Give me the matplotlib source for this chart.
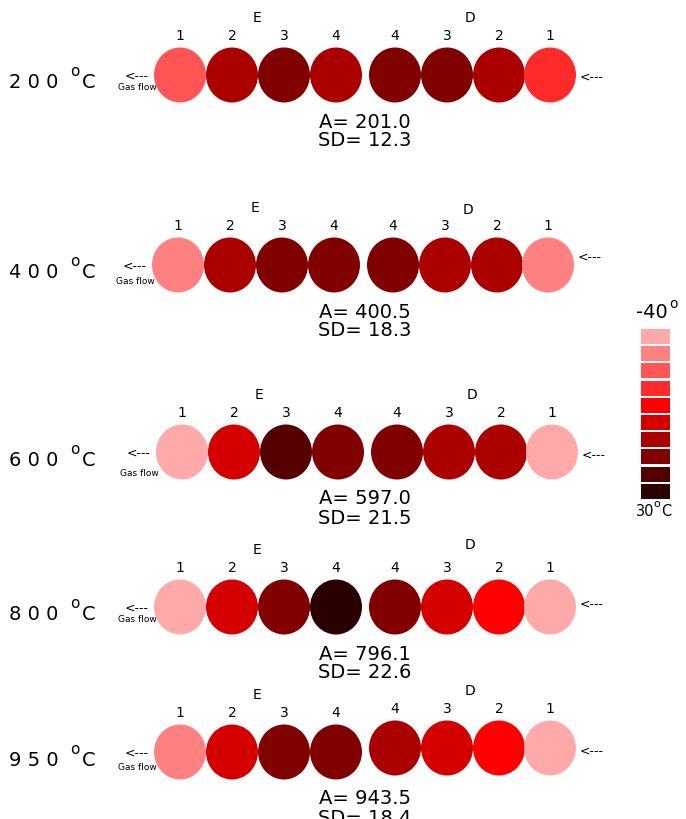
import matplotlib
matplotlib.use("Agg")
import matplotlib.pyplot as plt
from matplotlib.patches import Ellipse, Rectangle
from matplotlib.colors import ListedColormap, BoundaryNorm

# Furnace set-point temperatures and measured statistics
temps = [200, 400, 600, 800, 950]
averages = [201.0, 400.5, 597.0, 796.1, 943.5]
sds = [12.3, 18.3, 21.5, 22.6, 18.4]

# Zone labels along the tube (gas flows right to left)
zone_labels = ["1", "2", "3", "4", "4", "3", "2", "1"]

# Deviation class (1 = -40 °C ... 10 = +30 °C) of each zone, order E1..E4, D4..D1
class_200 = [3, 7, 8, 7, 8, 8, 7, 4]
class_400 = [2, 7, 8, 8, 8, 7, 7, 2]
class_600 = [1, 6, 9, 8, 8, 7, 7, 1]
class_800 = [1, 6, 8, 10, 8, 6, 5, 1]
class_950 = [2, 6, 8, 8, 7, 6, 5, 1]
row_classes = [class_200, class_400, class_600, class_800, class_950]

palette = ["#FFAAAA", "#FF8080", "#FF5555", "#FF2B2B", "#FF0000",
           "#D40000", "#AA0000", "#800000", "#550000", "#2B0000"]
cmap = ListedColormap(palette)
norm = BoundaryNorm([k + 0.5 for k in range(11)], cmap.N)

# Layout (pixel-like coordinates)
row_y = [75, 265, 452, 607, 752]
row_dx = [0, -2, 2, 0, 0]
d_dy = [0, 0, 0, 0, -4]
ring_x = [180, 232, 284, 336, 395, 447, 499, 550]
gas_dy = [13, 17, 21, 13, 15]
right_dy = [2, -8, 3, -3, -1]
dlab_dy = [-57, -55, -57, -62, -61]

fig = plt.figure(figsize=(6.86, 8.19), dpi=100)
ax = fig.add_axes([0, 0, 1, 1])
ax.set_xlim(0, 686)
ax.set_ylim(819, 0)
ax.axis("off")

for r, (t, a, s, cls) in enumerate(zip(temps, averages, sds, row_classes)):
    y0 = row_y[r]
    dx = row_dx[r]
    for i, c in enumerate(cls):
        yy = y0 + (d_dy[r] if i >= 4 else 0)
        ax.add_patch(Ellipse((ring_x[i] + dx, yy), 52, 55,
                             facecolor=cmap(norm(c)), edgecolor="none"))
        ax.text(ring_x[i] + dx, yy - 39, zone_labels[i], ha="center",
                va="center", fontsize=10)
    ax.text(257 + dx, y0 - 57, "E", ha="center", va="center", fontsize=10)
    ax.text(470 + dx, y0 + dlab_dy[r], "D", ha="center", va="center", fontsize=10)

    # temperature label
    ax.text(9, y0 + 8, " ".join(str(t)), ha="left", va="center", fontsize=14)
    ax.text(70, y0 - 3, "o", ha="left", va="center", fontsize=11)
    ax.text(82, y0 + 8, "C", ha="left", va="center", fontsize=14)

    # gas-flow arrows
    ax.text(137 + dx, y0 + 1, "<---", ha="center", va="center", fontsize=9)
    ax.text(137 + dx, y0 + gas_dy[r], "Gas flow", ha="center", va="center",
            fontsize=6.5)
    ax.text(580 + dx, y0 + right_dy[r], "<---", ha="left", va="center", fontsize=9)

    # statistics
    ax.text(365, y0 + 47, f"A= {a:.1f}", ha="center", va="center", fontsize=14)
    ax.text(365, y0 + 66, f"SD= {s:.1f}", ha="center", va="center", fontsize=14)

# colour key
for k, col in enumerate(palette):
    ax.add_patch(Rectangle((641, 329 + k * 17.2), 29, 15, facecolor=col,
                           edgecolor="none"))
ax.text(636, 312, "-40", ha="left", va="center", fontsize=14)
ax.text(669, 304, "o", ha="left", va="center", fontsize=10)
ax.text(636, 512, "30", ha="left", va="center", fontsize=10.5)
ax.text(653, 504, "o", ha="left", va="center", fontsize=8)
ax.text(661, 512, "C", ha="left", va="center", fontsize=10.5)

fig.savefig("out.png", dpi=100)
